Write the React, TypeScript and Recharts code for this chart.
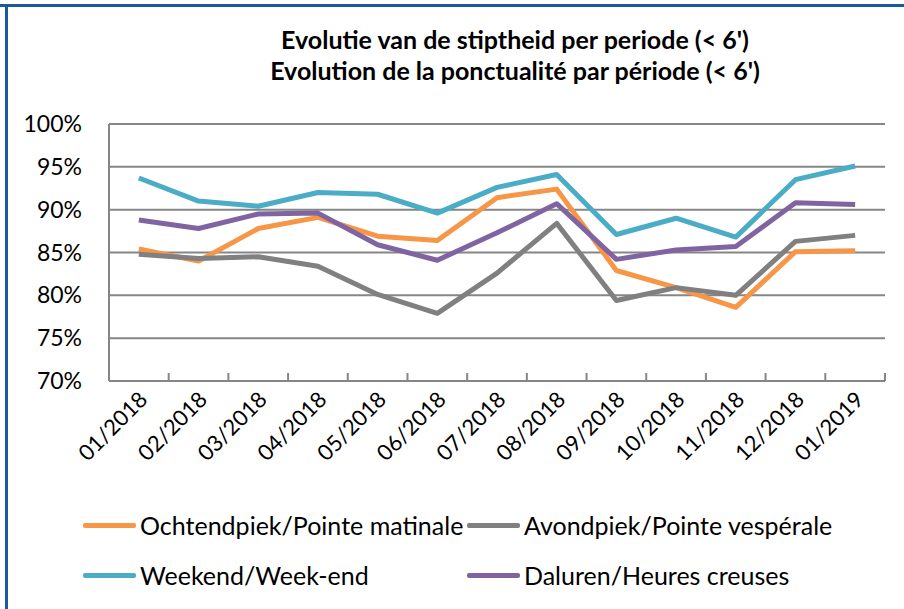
import { CartesianGrid, Line, LineChart, XAxis, YAxis } from "recharts";

const months = [
  "01/2018", "02/2018", "03/2018", "04/2018", "05/2018", "06/2018", "07/2018",
  "08/2018", "09/2018", "10/2018", "11/2018", "12/2018", "01/2019",
];
const ochtendpiek = [85.4, 84.0, 87.8, 89.1, 86.9, 86.4, 91.4, 92.4, 82.9, 80.9, 78.6, 85.1, 85.2];
const avondpiek = [84.8, 84.3, 84.5, 83.4, 80.1, 77.9, 82.6, 88.4, 79.4, 80.9, 80.0, 86.3, 87.0];
const weekend = [93.7, 91.0, 90.4, 92.0, 91.8, 89.6, 92.6, 94.1, 87.1, 89.0, 86.8, 93.5, 95.1];
const daluren = [88.8, 87.8, 89.5, 89.6, 85.9, 84.1, 87.3, 90.7, 84.2, 85.3, 85.7, 90.8, 90.6];
const yTicks = [70, 75, 80, 85, 90, 95, 100];

const series = [
  { key: "ochtend", name: "Ochtendpiek/Pointe matinale", color: "#F79646", values: ochtendpiek },
  { key: "avond", name: "Avondpiek/Pointe vespérale", color: "#808080", values: avondpiek },
  { key: "weekend", name: "Weekend/Week-end", color: "#4BACC6", values: weekend },
  { key: "daluren", name: "Daluren/Heures creuses", color: "#8064A2", values: daluren },
];

const data = months.map((m, i) => {
  const row: Record<string, string | number> = { month: m };
  series.forEach((s) => (row[s.key] = s.values[i]));
  return row;
});

const W = 904;
const H = 609;
const PLOT_LEFT = 109;
const PLOT_RIGHT = 885;
const STEP = (PLOT_RIGHT - PLOT_LEFT) / months.length;
const FONT = "Lato, 'Open Sans', sans-serif";
const AXIS = "#868686";

// category ticks sit on the band edges, pointing into the plot
function MonthTick({ x, y, payload, index }: any) {
  const left = x - STEP / 2;
  return (
    <g>
      <line x1={left} x2={left} y1={y} y2={y - 8} stroke={AXIS} strokeWidth={2} />
      {index === months.length - 1 && (
        <line x1={x + STEP / 2} x2={x + STEP / 2} y1={y} y2={y - 8} stroke={AXIS} strokeWidth={2} />
      )}
      <text
        x={x + 10}
        y={y + 20}
        textAnchor="end"
        transform={`rotate(-45, ${x + 10}, ${y + 20})`}
        fill="#000"
        fontSize={22}
        fontFamily={FONT}
      >
        {payload.value}
      </text>
    </g>
  );
}

export default function App() {
  return (
    <div
      style={{
        position: "absolute",
        left: 0,
        top: 0,
        width: W,
        height: H,
        background: "#fff",
        fontFamily: FONT,
        overflow: "hidden",
      }}
    >
      <div style={{ position: "absolute", left: 0, top: 4, width: W, height: 3, background: "#1A5A9C" }} />
      <div style={{ position: "absolute", left: 5, top: 4, width: 3, height: H, background: "#1A5A9C" }} />
      <div
        style={{
          position: "absolute",
          left: 130,
          width: 770,
          top: 24,
          textAlign: "center",
          fontWeight: 700,
          fontSize: 25,
          lineHeight: "31px",
          color: "#000",
        }}
      >
        <div>Evolutie van de stiptheid per periode (&lt; 6')</div>
        <div>Evolution de la ponctualité par période (&lt; 6')</div>
      </div>
      <div style={{ position: "absolute", left: 0, top: 0 }}>
        <LineChart
          width={W}
          height={H}
          data={data}
          margin={{ top: 124, right: W - PLOT_RIGHT, left: PLOT_LEFT - 70, bottom: H - 381 - 100 }}
        >
          <CartesianGrid vertical={false} stroke={AXIS} strokeWidth={2} />
          <XAxis
            dataKey="month"
            interval={0}
            tickSize={0}
            tickMargin={0}
            height={100}
            padding={{ left: STEP / 2, right: STEP / 2 }}
            axisLine={{ stroke: AXIS, strokeWidth: 2 }}
            tick={<MonthTick />}
          />
          <YAxis
            width={70}
            domain={[70, 100]}
            ticks={yTicks}
            tickFormatter={(v) => `${v}%`}
            tickLine={false}
            tickMargin={21}
            axisLine={{ stroke: AXIS, strokeWidth: 2 }}
            tick={{ fill: "#000", fontSize: 23, fontFamily: FONT }}
          />
          {series.map((s) => (
            <Line
              key={s.key}
              dataKey={s.key}
              name={s.name}
              stroke={s.color}
              strokeWidth={5}
              dot={false}
              strokeLinejoin="round"
              isAnimationActive={false}
            />
          ))}
        </LineChart>
      </div>
      {series.map((s, i) => {
        const col = i % 2;
        const row = Math.floor(i / 2);
        return (
          <div
            key={s.key}
            style={{
              position: "absolute",
              left: col === 0 ? 83 : 467,
              top: 509 + row * 50,
              height: 32,
              display: "flex",
              alignItems: "center",
              fontSize: 25,
              color: "#000",
              whiteSpace: "nowrap",
            }}
          >
            <span style={{ display: "inline-block", width: 53, height: 5, background: s.color, borderRadius: 2, marginRight: 4 }} />
            {s.name}
          </div>
        );
      })}
    </div>
  );
}
